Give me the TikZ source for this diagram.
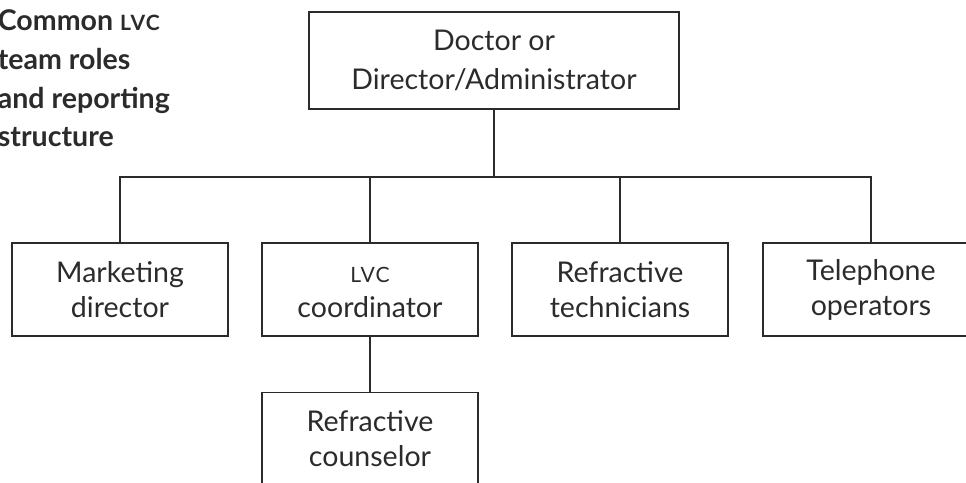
\documentclass[tikz,border=0pt]{standalone}
\usepackage{fontspec}
\setmainfont{Lato}
\usepackage{tikz}
\usetikzlibrary{positioning}

\definecolor{inkgray}{HTML}{2B2B2B}
\newcommand{\lvc}{{\fontsize{15pt}{15pt}\selectfont\addfontfeature{LetterSpace=6}LVC}}

\begin{document}
\begin{tikzpicture}[
    rolebox/.style={draw=inkgray, line width=0.8pt, text=inkgray,
        minimum width=5.4cm, minimum height=2.325cm, align=center,
        font=\fontsize{20.3pt}{24.9pt}\selectfont},
    headbox/.style={rolebox, minimum width=9.25cm, minimum height=2.425cm,
        font=\fontsize{20.3pt}{28pt}\selectfont},
    link/.style={draw=inkgray, line width=0.8pt}
]
\clip (0,0) rectangle (24.15,-12.075);

% title
\node[anchor=base west, inner sep=0pt, align=left, text=inkgray,
      font=\bfseries\fontsize{20.3pt}{27.7pt}\selectfont] (title) at (-0.06,-3.675)
      {Common \lvc\\team roles\\and reporting\\structure};

% boxes
\node[headbox] (head) at (12.35,-1.5125) {Doctor or\\Director/Administrator};
\node[rolebox] (mkt)   at (3.0,-7.2375)    {Marketing\\director};
\node[rolebox] (coord) at (9.25,-7.2375)   {\vphantom{M}\lvc\\coordinator};
\node[rolebox] (tech)  at (15.5,-7.2375)   {Refractive\\technicians};
\node[rolebox] (phone) at (21.775,-7.2375) {Telephone\\operators};
\node[rolebox, below=1.375cm of coord] (couns) {Refractive\\counselor};

% reporting lines
\coordinate (bar) at (12.35,-4.425);
\draw[link] (head.south) -- (bar);
\foreach \n in {mkt,coord,tech,phone}
  \draw[link] (bar) -| (\n.north);
\draw[link] (coord.south) -- (couns.north);
\end{tikzpicture}
\end{document}
